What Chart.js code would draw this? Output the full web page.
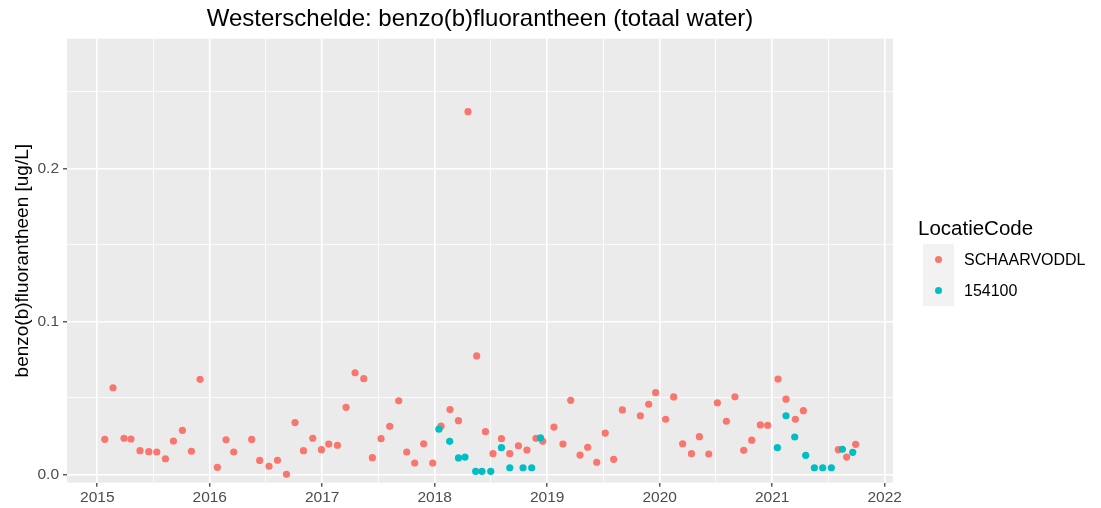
<!DOCTYPE html>
<html>
<head>
<meta charset="utf-8">
<script src="https://cdn.jsdelivr.net/npm/chart.js@4.4.1/dist/chart.umd.min.js"></script>
<style>
  body { margin: 0; background: #fff; font-family: "Liberation Sans", Arial, sans-serif; }
  #wrap { position: relative; width: 1101px; height: 508px; }
  #chart { position: absolute; left: 0; top: 0; }
  #title { position: absolute; left: 67px; width: 826px; top: 3px; line-height: 30px; text-align: center; font-size: 24px; color: #000; }
  #legend { position: absolute; left: 918px; top: 214px; color: #000; }
  #legend .head { font-size: 20.5px; line-height: 28px; height: 30px; }
  #legend .row { display: flex; align-items: center; height: 31px; }
  #legend .key { width: 31px; height: 31px; background: #f2f2f2; position: relative; margin-left: 5px; }
  #legend .dot { position: absolute; left: 12px; top: 12px; width: 7px; height: 7px; border-radius: 50%; }
  #legend .lab { font-size: 16px; margin-left: 10px; }
</style>
</head>
<body>
<div id="wrap">
  <canvas id="chart" width="1101" height="508"></canvas>
  <div id="title">Westerschelde: benzo(b)fluorantheen (totaal water)</div>
  <div id="legend">
    <div class="head">LocatieCode</div>
    <div class="row"><div class="key"><div class="dot" style="background:#F8766D"></div></div><div class="lab">SCHAARVODDL</div></div>
    <div class="row"><div class="key"><div class="dot" style="background:#00BFC4"></div></div><div class="lab">154100</div></div>
  </div>
</div>
<script>
// sample dates as decimal years, concentrations in ug/L
const schaarYears = [
  2015.067, 2015.140, 2015.238, 2015.300, 2015.380, 2015.458, 2015.529, 2015.606, 2015.677, 2015.757,
  2015.837, 2015.914, 2016.068, 2016.145, 2016.213, 2016.373, 2016.444, 2016.527, 2016.602, 2016.682,
  2016.758, 2016.833, 2016.916, 2016.993, 2017.058, 2017.135, 2017.212, 2017.292, 2017.369, 2017.446,
  2017.523, 2017.600, 2017.680, 2017.751, 2017.822, 2017.902, 2017.982, 2018.056, 2018.136, 2018.211,
  2018.296, 2018.373, 2018.451, 2018.518, 2018.593, 2018.667, 2018.744, 2018.820, 2018.900, 2018.960,
  2019.060, 2019.140, 2019.209, 2019.292, 2019.360, 2019.440, 2019.516, 2019.591, 2019.668, 2019.828,
  2019.902, 2019.964, 2020.053, 2020.124, 2020.204, 2020.282, 2020.353, 2020.436, 2020.513, 2020.593,
  2020.669, 2020.747, 2020.818, 2020.895, 2020.960, 2021.052, 2021.123, 2021.206, 2021.277, 2021.588,
  2021.662, 2021.742
];
const schaarValues = [
  0.0230, 0.0567, 0.0237, 0.0232, 0.0156, 0.0149, 0.0147, 0.0103, 0.0219, 0.0289,
  0.0152, 0.0622, 0.0047, 0.0227, 0.0147, 0.0229, 0.0092, 0.0054, 0.0093, 0.0001,
  0.0339, 0.0156, 0.0237, 0.0162, 0.0199, 0.0191, 0.0439, 0.0665, 0.0626, 0.0110,
  0.0234, 0.0315, 0.0482, 0.0147, 0.0075, 0.0201, 0.0075, 0.0316, 0.0424, 0.0352,
  0.2371, 0.0775, 0.0280, 0.0136, 0.0234, 0.0136, 0.0188, 0.0160, 0.0237, 0.0217,
  0.0310, 0.0199, 0.0485, 0.0127, 0.0178, 0.0080, 0.0271, 0.0099, 0.0422, 0.0384,
  0.0459, 0.0535, 0.0361, 0.0507, 0.0201, 0.0136, 0.0247, 0.0134, 0.0469, 0.0348,
  0.0508, 0.0158, 0.0224, 0.0324, 0.0322, 0.0624, 0.0492, 0.0361, 0.0417, 0.0162,
  0.0114, 0.0197
];
const locYears = [
  2018.037, 2018.133, 2018.211, 2018.269, 2018.364, 2018.420, 2018.498, 2018.593, 2018.667, 2018.785,
  2018.862, 2018.940, 2021.046, 2021.123, 2021.200, 2021.298, 2021.375, 2021.449, 2021.526, 2021.624,
  2021.716
];
const locValues = [
  0.0296, 0.0217, 0.0108, 0.0114, 0.0021, 0.0021, 0.0021, 0.0175, 0.0044, 0.0044,
  0.0044, 0.0239, 0.0175, 0.0384, 0.0245, 0.0125, 0.0044, 0.0044, 0.0044, 0.0165,
  0.0145
];
const seriesNames = ["SCHAARVODDL", "154100"];
const seriesColors = ["#F8766D", "#00BFC4"];
const xTicks = [2015, 2015.5, 2016, 2016.5, 2017, 2017.5, 2018, 2018.5, 2019, 2019.5, 2020, 2020.5, 2021, 2021.5, 2022];
const yTicks = [0, 0.05, 0.1, 0.15, 0.2, 0.25];

function toPoints(xs, ys) {
  return xs.map((x, i) => ({ x: x, y: ys[i] }));
}

const isMajorX = v => Math.abs(v - Math.round(v)) < 1e-6;
const isMajorY = v => Math.abs(v * 10 - Math.round(v * 10)) < 1e-6;

const panelBg = {
  id: 'panelBg',
  beforeDraw(chart) {
    const a = chart.chartArea;
    chart.ctx.save();
    chart.ctx.fillStyle = '#EBEBEB';
    chart.ctx.fillRect(a.left, a.top, a.right - a.left, a.bottom - a.top);
    chart.ctx.restore();
  }
};

const tickFont = { family: "'Liberation Sans', Arial, sans-serif", size: 15.5 };

new Chart(document.getElementById('chart'), {
  type: 'scatter',
  data: {
    datasets: [
      {
        label: seriesNames[1],
        data: toPoints(locYears, locValues),
        backgroundColor: seriesColors[1],
        borderWidth: 0,
        pointRadius: 3.6,
        pointHoverRadius: 3.6
      },
      {
        label: seriesNames[0],
        data: toPoints(schaarYears, schaarValues),
        backgroundColor: seriesColors[0],
        borderWidth: 0,
        pointRadius: 3.6,
        pointHoverRadius: 3.6
      }
    ]
  },
  options: {
    responsive: false,
    animation: false,
    layout: { padding: { top: 38.7, right: 208, left: 11, bottom: 0 } },
    plugins: {
      legend: { display: false },
      title: { display: false },
      tooltip: { enabled: false }
    },
    scales: {
      x: {
        type: 'linear',
        min: 2014.731,
        max: 2022.074,
        afterBuildTicks: s => { s.ticks = xTicks.map(v => ({ value: v })); },
        afterFit: s => { s.height = 25.3; },
        border: { display: false },
        grid: {
          color: '#FFFFFF',
          lineWidth: c => isMajorX(c.tick.value) ? 1.6 : 0.8,
          tickColor: c => isMajorX(c.tick.value) ? '#333333' : 'rgba(0,0,0,0)',
          tickLength: 4,
          tickWidth: 1.2
        },
        ticks: {
          autoSkip: false,
          maxRotation: 0,
          padding: 2,
          color: '#4D4D4D',
          font: tickFont,
          callback: v => isMajorX(v) ? String(Math.round(v)) : ''
        }
      },
      y: {
        min: -0.00536,
        max: 0.2848,
        afterBuildTicks: s => { s.ticks = yTicks.map(v => ({ value: v })); },
        afterFit: s => { s.width = 56; },
        border: { display: false },
        grid: {
          color: '#FFFFFF',
          lineWidth: c => isMajorY(c.tick.value) ? 1.6 : 0.8,
          tickColor: c => isMajorY(c.tick.value) ? '#333333' : 'rgba(0,0,0,0)',
          tickLength: 4,
          tickWidth: 1.2
        },
        ticks: {
          autoSkip: false,
          padding: 4,
          color: '#4D4D4D',
          font: tickFont,
          callback: v => isMajorY(v) ? v.toFixed(1) : ''
        },
        title: {
          display: true,
          text: 'benzo(b)fluorantheen [ug/L]',
          color: '#000000',
          font: { family: "'Liberation Sans', Arial, sans-serif", size: 19 },
          padding: 0
        }
      }
    }
  },
  plugins: [panelBg]
});
</script>
</body>
</html>
